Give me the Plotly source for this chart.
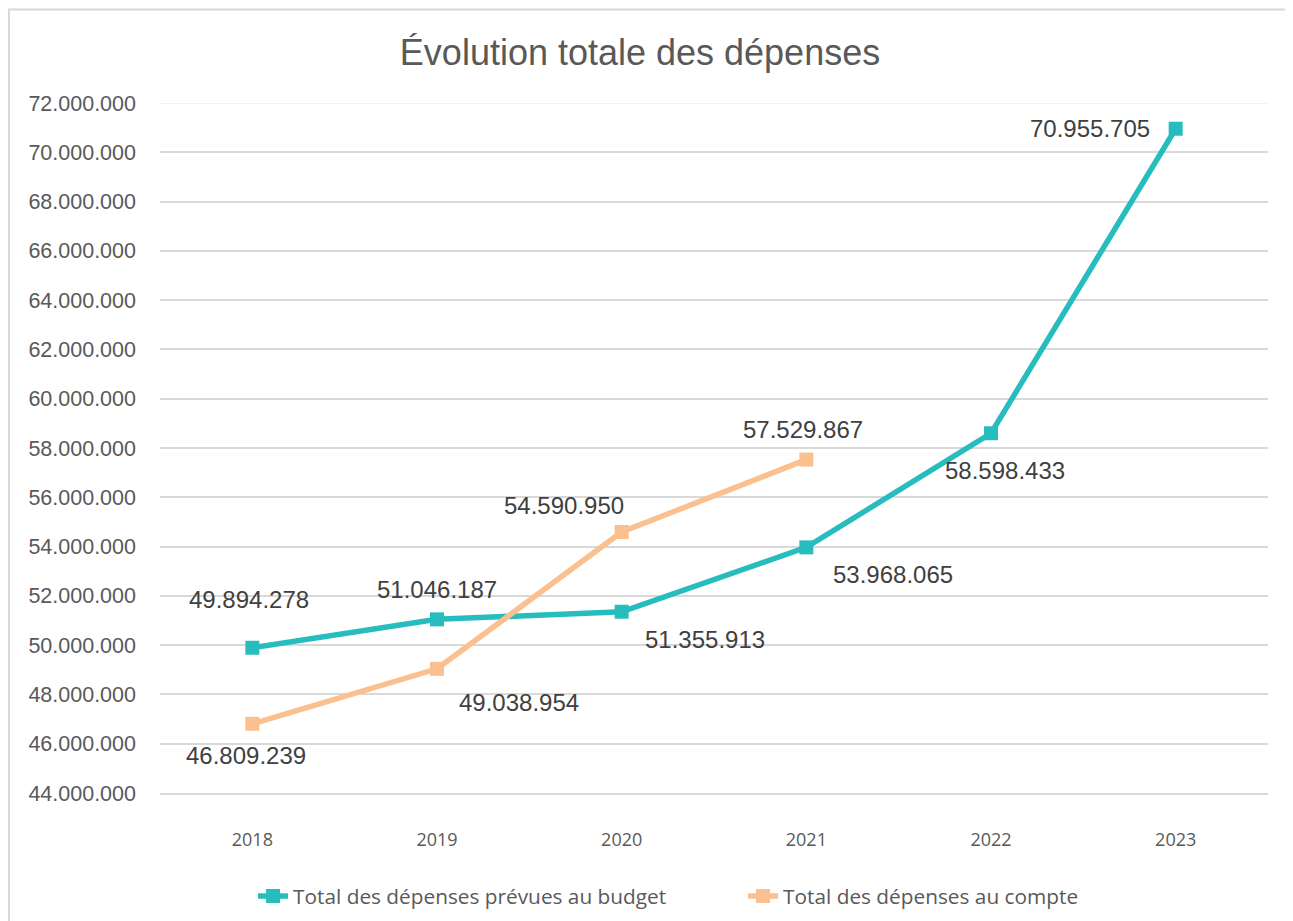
import plotly.graph_objects as go

# données
annees = ["2018", "2019", "2020", "2021", "2022", "2023"]
budget = [49894278, 51046187, 51355913, 53968065, 58598433, 70955705]
compte = [46809239, 49038954, 54590950, 57529867]

# décalage des étiquettes (px) par point
budget_shift = [(-3, 48), (0, 30), (83, -28), (87, -27), (14, -37), (-86, 0)]
compte_shift = [(-6, -32), (82, -34), (-58, 27), (-3, 30)]

TEAL = "#27BDBE"
ORANGE = "#FAC090"
TXT = "#595959"


def fmt(v):
    return f"{v:,}".replace(",", ".")


fig = go.Figure()
fig.add_trace(go.Scatter(x=annees, y=budget, name="Total des dépenses prévues au budget",
                         mode="lines+markers", line=dict(color=TEAL, width=5.5),
                         marker=dict(symbol="square", size=14, color=TEAL)))
fig.add_trace(go.Scatter(x=annees[:len(compte)], y=compte, name="Total des dépenses au compte",
                         mode="lines+markers", line=dict(color=ORANGE, width=5.5),
                         marker=dict(symbol="square", size=14, color=ORANGE)))

# étiquettes de données (x = index de catégorie)
for serie, shifts in ((budget, budget_shift), (compte, compte_shift)):
    for i, v in enumerate(serie):
        fig.add_annotation(x=i, y=v, text=fmt(v), showarrow=False,
                           xshift=shifts[i][0], yshift=shifts[i][1],
                           font=dict(family="Liberation Sans, Arial", size=24, color="#404040"))

# cadre du graphique
fig.add_shape(type="rect", xref="paper", yref="paper",
              x0=-0.1363, x1=1.05, y0=-0.3, y1=1.1354,
              line=dict(color="#D9D9D9", width=2), layer="below")

# ligne de grille supérieure plus claire
fig.add_shape(type="line", xref="paper", yref="y", x0=0, x1=1, y0=72000000, y1=72000000,
              line=dict(color="#F2F2F2", width=2), layer="below")

fig.update_layout(
    width=1293, height=921,
    paper_bgcolor="white", plot_bgcolor="white",
    margin=dict(l=152, r=33, t=95, b=132),
    separators=",.",
    title=dict(text="Évolution totale des dépenses", x=0.4888, xanchor="center", y=0.952, yanchor="middle",
               font=dict(family="Liberation Sans, Arial", size=36, color=TXT)),
    legend=dict(orientation="h", x=0.084, xanchor="left", y=-0.15, yanchor="middle",
                entrywidth=445, entrywidthmode="pixels",
                font=dict(family="Open Sans", size=20.8, color=TXT)),
    showlegend=True,
)
fig.update_xaxes(type="category", range=[-0.5, 5.5], showgrid=False, showline=True,
                 linecolor="#D9D9D9", linewidth=1.5, ticks="", ticklabelstandoff=30,
                 tickfont=dict(family="Open Sans", size=18, color=TXT))
fig.update_yaxes(range=[44000000, 72000000], dtick=2000000, tickformat=",.0f",
                 showgrid=True, gridcolor="#D9D9D9", gridwidth=1.5, zeroline=False,
                 ticklabelstandoff=23,
                 tickfont=dict(family="Liberation Sans, Arial", size=21.5, color=TXT))

fig.write_html("out.html")
